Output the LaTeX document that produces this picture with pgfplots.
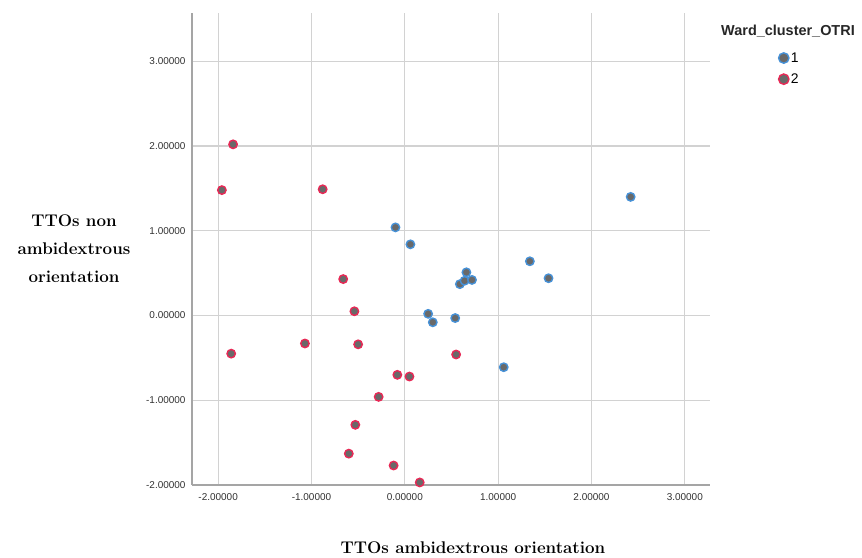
\documentclass[border=0pt]{standalone}
\usepackage{fontspec}
\usepackage{pgfplots}
\pgfplotsset{compat=1.18}
\setsansfont{Liberation Sans}
\definecolor{axisgray}{RGB}{165,165,165}
\definecolor{gridgray}{RGB}{210,210,210}
\definecolor{ptgray}{RGB}{105,105,105}
\definecolor{blueedge}{RGB}{70,145,215}
\definecolor{rededge}{RGB}{232,40,85}
\definecolor{ticktext}{RGB}{50,50,50}
\begin{document}
\begin{tikzpicture}
\path[use as bounding box] (0,0) rectangle (862bp,558bp);
\begin{axis}[
  at={(192bp,73bp)}, anchor=south west,
  scale only axis, width=518bp, height=472bp,
  xmin=-2.28, xmax=3.27, ymin=-2, ymax=3.57,
  axis x line*=bottom, axis y line*=left,
  axis line style={draw=axisgray, line width=1.6bp, -},
  grid=major, major grid style={draw=gridgray, line width=1.1bp},
  xtick={-2,-1,0,1,2,3}, ytick={-2,-1,0,1,2,3},
  major tick length=0pt,
  /pgf/number format/assume math mode=true,
  /pgf/number format/.cd, fixed, fixed zerofill, precision=5, /pgfplots/.cd,
  ticklabel style={font=\sffamily\fontsize{10}{11}\selectfont, text=ticktext},
  xticklabel style={yshift=-5bp},
  yticklabel style={xshift=-3bp},
  clip=false,
  legend style={draw=none, fill=none, at={(1.132,0.921)}, anchor=north west,
    font=\sffamily\fontsize{14}{15}\selectfont, row sep=6bp, inner sep=0pt,
    /tikz/every even column/.append style={column sep=1bp}},
  legend cell align=left,
  legend image code/.code={\draw[mark repeat=2,mark phase=2,#1] plot coordinates {(0bp,0bp) (5bp,0bp) (10bp,0bp)};},
  legend image post style={mark size=5.2bp},
]
\addplot[only marks, mark=*, mark size=4.2bp, mark options={fill=ptgray, draw=blueedge, line width=1.4bp}]
coordinates {
(-0.10,1.04) (0.06,0.84) (0.25,0.02) (0.30,-0.08) (0.54,-0.03)
(0.59,0.37) (0.64,0.41) (0.66,0.51) (0.72,0.42)
(1.34,0.64) (1.54,0.44) (1.06,-0.61) (2.42,1.40)
};
\addlegendentry{1}
\addplot[only marks, mark=*, mark size=4.2bp, mark options={fill=ptgray, draw=rededge, line width=1.4bp}]
coordinates {
(-1.84,2.02) (-1.96,1.48) (-0.88,1.49) (-0.66,0.43) (-0.54,0.05)
(-1.86,-0.45) (-1.07,-0.33) (-0.50,-0.34) (0.55,-0.46)
(-0.08,-0.70) (0.05,-0.72) (-0.28,-0.96) (-0.53,-1.29)
(-0.60,-1.63) (-0.12,-1.77) (0.16,-1.97)
};
\addlegendentry{2}
\end{axis}
\node[font=\sffamily\bfseries\fontsize{14.5}{16}\selectfont, text=black!85] at (788bp,527bp) {Ward\_cluster\_OTRI};
\node[font=\bfseries\fontsize{17}{28}\selectfont, align=center] at (74bp,309bp) {TTOs non\\ambidextrous\\orientation};
\node[font=\bfseries\fontsize{17}{20}\selectfont] at (473bp,10bp) {TTOs ambidextrous orientation};
\end{tikzpicture}
\end{document}
